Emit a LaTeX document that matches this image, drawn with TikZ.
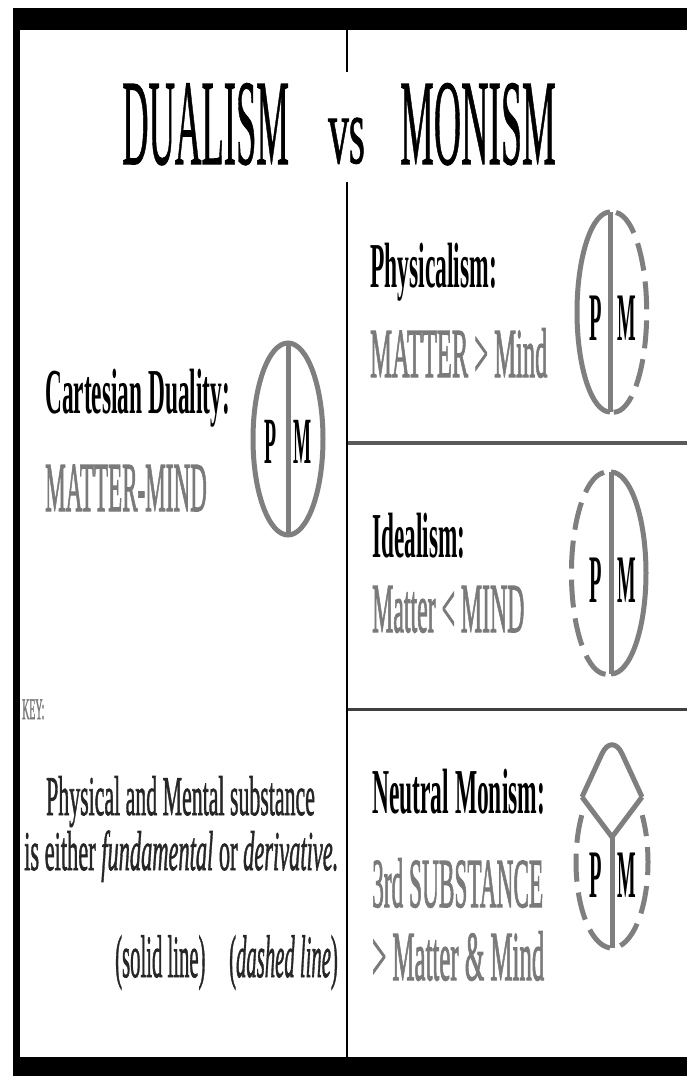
\documentclass[tikz,border=0pt]{standalone}
\usepackage{fontspec}
\setmainfont{Liberation Serif}
\newfontfamily\grayfont[FakeBold=2]{Liberation Serif}
\newfontfamily\keyfont[FakeBold=1.5]{Liberation Serif}
\newfontfamily\titlefont[FakeBold=1]{Liberation Serif}
\usepackage{graphicx}
\newcommand\sqz[2]{\scalebox{#1}[1]{#2}}
\definecolor{txtgray}{HTML}{7A7A7A}
\definecolor{symgray}{HTML}{7F7F7F}
\definecolor{divgray}{HTML}{5A5A5A}
\begin{document}
\begin{tikzpicture}[x=1pt,y=-1pt,
  lbl/.style={inner sep=0pt, anchor=base west, text=black, font=\fontsize{64}{64}\selectfont\bfseries},
  sub/.style={inner sep=0pt, anchor=base west, text=txtgray, font=\grayfont\fontsize{70}{70}\selectfont},
  keytxt/.style={inner sep=0pt, anchor=base west, text=black!85, font=\keyfont\fontsize{56}{56}\selectfont},
  ttl/.style={inner sep=0pt, anchor=base west, text=black, font=\titlefont\fontsize{122}{122}\selectfont},
  letter/.style={inner sep=0pt, anchor=base, text=black, font=\fontsize{68}{68}\selectfont\bfseries},
  solidarc/.style={draw=symgray, line width=5pt},
  dasharc/.style={draw=symgray, line width=5pt, dash pattern=on 28pt off 11pt}]
\useasboundingbox (0,0) rectangle (687,1076);
\fill[white] (0,0) rectangle (687,1076);
% frame
\fill[black] (13,8) rectangle (687,30);
\fill[black] (13,8) rectangle (20,1076);
\fill[black] (13,1057) rectangle (687,1076);
% dividers
\coordinate (vt) at (347,30);
\coordinate (vg1) at (347,72);
\coordinate (vg2) at (347,182);
\coordinate (vb) at (347,1057);
\draw[black, line width=2.5pt] (vt) -- (vg1);
\draw[black, line width=2.5pt] (vg2) -- (vb);
\coordinate (h1a) at (348,443);
\coordinate (h1b) at (687,443);
\coordinate (h2a) at (348,709);
\coordinate (h2b) at (687,709);
\draw[divgray, line width=4pt] (h1a) -- (h1b);
\draw[black!75, line width=3pt] (h2a) -- (h2b);
% title
\node[ttl] (t1) at (122,164) {\sqz{0.30}{DUALISM}};
\node[ttl, font=\titlefont\fontsize{96}{96}\selectfont] (t2) at (328,163) {\sqz{0.43}{vs}};
\node[ttl] (t3) at (400,164) {\sqz{0.31}{MONISM}};
% Cartesian
\node[lbl] (cd) at (45,413) {\sqz{0.365}{Cartesian Duality:}};
\node[sub] (cdm) at (45,511) {\sqz{0.33}{MATTER-MIND}};
\draw[solidarc] (288,439) ellipse [x radius=35, y radius=96];
\coordinate (c1t) at (288,343);
\coordinate (c1b) at (288,535);
\draw[solidarc] (c1t) -- (c1b);
\node[letter, font=\fontsize{66}{66}\selectfont\bfseries] (cp) at (271,463) {\sqz{0.30}{P}};
\node[letter, font=\fontsize{66}{66}\selectfont\bfseries] (cm) at (303,463) {\sqz{0.29}{M}};
% Physicalism
\node[lbl] (ph) at (370,287) {\sqz{0.368}{Physicalism:}};
\node[sub] (phm) at (370,377) {\sqz{0.35}{MATTER > Mind}};
\draw[solidarc] (610,212) arc[start angle=270, end angle=90, x radius=33, y radius=100];
\draw[dasharc] (616,212.5) arc[start angle=-86, end angle=90, x radius=33, y radius=100];
\coordinate (c2t) at (610,212);
\coordinate (c2b) at (610,412);
\draw[solidarc] (c2t) -- (c2b);
\node[letter] (pp) at (596,340) {\sqz{0.30}{P}};
\node[letter] (pm) at (627,340) {\sqz{0.29}{M}};
% Idealism
\node[lbl] (id) at (372,557) {\sqz{0.363}{Idealism:}};
\node[sub] (idm) at (372,632) {\sqz{0.34}{Matter < MIND}};
\draw[dasharc] (604,472.5) arc[start angle=266, end angle=90, x radius=35, y radius=101];
\draw[solidarc] (611,472) arc[start angle=-90, end angle=90, x radius=35, y radius=101];
\coordinate (c3t) at (611,472);
\coordinate (c3b) at (611,674);
\draw[solidarc] (c3t) -- (c3b);
\node[letter] (ip) at (596,602) {\sqz{0.30}{P}};
\node[letter] (im) at (627,602) {\sqz{0.29}{M}};
% Neutral monism
\node[lbl] (nm) at (372,813) {\sqz{0.367}{Neutral Monism:}};
\node[sub] (nm1) at (372,907) {\sqz{0.333}{3rd SUBSTANCE}};
\node[sub] (nm2) at (372,980) {\sqz{0.355}{> Matter \& Mind}};
\draw[dasharc] (612,862) ++(213:36 and 86) arc[start angle=213, end angle=-33, x radius=36, y radius=86];
\coordinate (dl) at (582,797);
\coordinate (dr) at (642,797);
\coordinate (dv) at (612,837);
\coordinate (db) at (612,948);
\coordinate (dapex) at (612,732);
\draw[solidarc, rounded corners=24pt] (dl) -- (dapex) -- (dr);
\draw[solidarc, line join=round] (dl) -- (dv) -- (dr);
\draw[solidarc] (dv) -- (db);
\node[letter] (np) at (596,897) {\sqz{0.30}{P}};
\node[letter] (nmm) at (627,897) {\sqz{0.29}{M}};
% Key
\node[inner sep=0pt, anchor=base west, text=txtgray, font=\grayfont\fontsize{30}{30}\selectfont] (key) at (22,719) {\sqz{0.33}{KEY:}};
\node[keytxt] (k1) at (46,815) {\sqz{0.39}{Physical and Mental substance}};
\node[keytxt] (k2) at (24,870) {\sqz{0.40}{is either \textit{fundamental} or \textit{derivative.}}};
\node[keytxt, font=\keyfont\fontsize{60}{60}\selectfont] (k3) at (115,977) {\sqz{0.345}{(solid line)}};
\node[keytxt, font=\keyfont\fontsize{60}{60}\selectfont] (k4) at (229,977) {\sqz{0.345}{(\textit{dashed line})}};
\end{tikzpicture}
\end{document}
